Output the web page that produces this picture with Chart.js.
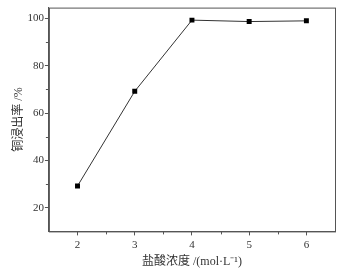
<!DOCTYPE html>
<html>
<head>
<meta charset="utf-8">
<script src="https://cdn.jsdelivr.net/npm/chart.js@4"></script>
<style>
  html, body { margin: 0; padding: 0; background: #fff; }
  #wrap { width: 347px; height: 270px; }
</style>
</head>
<body>
<div id="wrap"><canvas id="leachChart"></canvas></div>
<script>
// --- data ---
const concentrations = [2, 3, 4, 5, 6];
const leachRates = [29.2, 69.2, 99.3, 98.7, 99.0];
const xTicks = [2, 3, 4, 5, 6];
const yTicks = [20, 40, 60, 80, 100];

const axisColor = '#555';
const serif = "'Liberation Serif', 'Times New Roman', serif";
const titleFont = "'Liberation Serif', 'Noto Sans CJK SC', serif";

// frame + minor ticks
const framePlugin = {
    id: 'frame',
    afterDraw(chart) {
        const { ctx, chartArea: a, scales } = chart;
        ctx.save();
        ctx.strokeStyle = axisColor;
        ctx.lineWidth = 1;
        ctx.strokeRect(a.left + 0.5, a.top + 0.5, a.right - a.left, a.bottom - a.top);
        ctx.beginPath();
        for (let i = 0; i < xTicks.length - 1; i++) {
            const px = Math.round(scales.x.getPixelForValue((xTicks[i] + xTicks[i + 1]) / 2)) + 0.5;
            ctx.moveTo(px, a.bottom);
            ctx.lineTo(px, a.bottom + 3);
        }
        const yMinor = [30, 50, 70, 90];
        yMinor.forEach(v => {
            const py = Math.round(scales.y.getPixelForValue(v)) + 0.5;
            ctx.moveTo(a.left, py);
            ctx.lineTo(a.left - 3, py);
        });
        ctx.stroke();
        ctx.restore();
    }
};

new Chart(document.getElementById('leachChart'), {
    type: 'line',
    data: {
        datasets: [{
            data: concentrations.map((c, i) => ({ x: c, y: leachRates[i] })),
            borderColor: '#333',
            borderWidth: 1,
            backgroundColor: '#000',
            pointStyle: 'rect',
            pointRadius: 3.5,
            pointBorderWidth: 0,
            tension: 0
        }]
    },
    options: {
        responsive: true,
        maintainAspectRatio: false,
        animation: false,
        layout: { padding: { left: 12, top: 5, right: 12, bottom: 1 } },
        plugins: {
            legend: { display: false },
            tooltip: { enabled: false }
        },
        scales: {
            x: {
                type: 'linear',
                min: 1.5,
                max: 6.5,
                afterBuildTicks: (s) => { s.ticks = xTicks.map(v => ({ value: v })); },
                grid: { drawOnChartArea: false, tickLength: 4, color: axisColor },
                border: { color: axisColor },
                ticks: { color: '#333', font: { family: serif, size: 11 }, padding: 3 },
                title: {
                    display: true,
                    text: '盐酸浓度 /(mol·L⁻¹)',
                    color: '#333',
                    font: { family: titleFont, size: 12 },
                    padding: { top: 0, bottom: 0 }
                }
            },
            y: {
                type: 'linear',
                min: 10,
                max: 104.6,
                afterBuildTicks: (s) => { s.ticks = yTicks.map(v => ({ value: v })); },
                grid: { drawOnChartArea: false, tickLength: 4, color: axisColor },
                border: { color: axisColor },
                ticks: { color: '#333', font: { family: serif, size: 11 }, padding: 1 },
                title: {
                    display: true,
                    text: '铜浸出率 /%',
                    color: '#333',
                    font: { family: titleFont, size: 12 },
                    padding: { top: 0, bottom: 0 }
                }
            }
        }
    },
    plugins: [framePlugin]
});
</script>
</body>
</html>
